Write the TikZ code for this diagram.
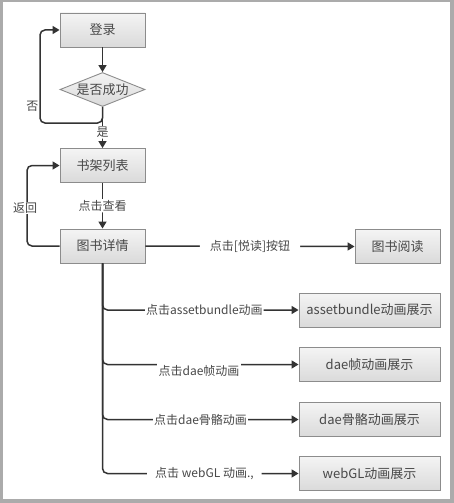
\documentclass[tikz,border=0pt]{standalone}
\usepackage{fontspec}
\setmainfont{Noto Sans CJK SC}
\usetikzlibrary{shapes.geometric,arrows.meta}
\definecolor{framegray}{HTML}{ABABAB}
\definecolor{boxline}{HTML}{8C8C8C}
\definecolor{boxtop}{HTML}{F4F4F4}
\definecolor{boxbot}{HTML}{DADADA}
\definecolor{txt}{HTML}{484848}
\definecolor{ln}{HTML}{333333}
\begin{document}
\begin{tikzpicture}[x=1pt,y=-1pt,
  box/.style={draw=boxline, line width=0.9pt, top color=boxtop, bottom color=boxbot,
    minimum height=34pt, inner sep=0pt, text=txt, font=\fontsize{13}{15}\selectfont},
  smallbox/.style={box, minimum width=85pt},
  widebox/.style={box, minimum width=141pt},
  dia/.style={draw=boxline, line width=0.9pt, top color=boxtop, bottom color=boxbot,
    shape=diamond, aspect=2.6, inner sep=0pt, minimum width=85pt, minimum height=34pt,
    text=txt, font=\fontsize{13}{15}\selectfont},
  conn/.style={draw=ln, line width=1.5pt, rounded corners=5pt},
  arr/.style={conn, -{Triangle[length=7pt,width=8pt]}},
  lab/.style={fill=white, text=txt, inner xsep=3pt, inner ysep=1pt, font=\fontsize{12}{14}\selectfont},
]
\fill[framegray] (0,0) rectangle (454,503);
\fill[white] (3,2) rectangle (450,499);

\node[smallbox] (login) at (102.5,30) {登录};
\node[dia] (ok) at (102.5,89.5) {是否成功};
\node[smallbox] (shelf) at (102.5,165.5) {书架列表};
\node[smallbox] (detail) at (102.5,246) {图书详情};
\node[smallbox] (read) at (397.5,246.5) {图书阅读};
\node[widebox] (ab) at (369.5,310) {assetbundle动画展示};
\node[widebox] (frame) at (369.5,364.5) {dae帧动画展示};
\node[widebox] (bone) at (369.5,419.5) {dae骨骼动画展示};
\node[widebox] (gl) at (369.5,473.5) {webGL动画展示};

\coordinate (nojoin) at (102.5,123);
\coordinate (noleft) at (40,123);
\coordinate (noup) at (40,30);
\coordinate (backleft) at (27,246);
\coordinate (backup) at (27,165.5);

\draw[arr] (login) -- (ok);
\draw[arr] (ok.south) -- (shelf.north) node[lab, pos=0.62] {是};
\draw[arr] (ok.south) -- (nojoin) -- (noleft) -- (noup) -- (login.west);
\node[text=txt, font=\fontsize{12}{14}\selectfont, anchor=east, inner sep=1pt] (nolab) at (39.5,106.5) {否};

\draw[arr] (shelf.south) -- (detail.north) node[lab, midway] {点击查看};
\draw[arr] (detail.west) -- (backleft) -- (backup) -- (shelf.west);
\node[lab] (backlab) at (25,208) {返回};

\draw[arr] (detail.east) -- (read.west) node[lab, midway, inner xsep=10pt] {点击[悦读]按钮};

\draw[arr] (detail.south) |- (ab.west) node[lab, pos=0.76, inner xsep=1pt] {点击assetbundle动画};
\draw[arr] (detail.south) |- (frame.west);
\node[lab, inner xsep=2pt, inner ysep=2pt] (framelab) at (199,371) {点击dae帧动画};
\draw[arr] (detail.south) |- (bone.west) node[lab, pos=0.75, inner xsep=1pt] {点击dae骨骼动画};
\draw[arr] (detail.south) |- (gl.west) node[lab, pos=0.76, inner xsep=8pt] {点击 webGL 动画.,};
\end{tikzpicture}
\end{document}
